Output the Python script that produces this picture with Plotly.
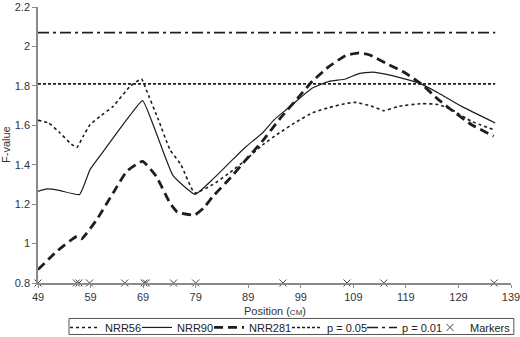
import plotly.graph_objects as go

# ---- data ----
nrr56_x = [49, 51, 53.2, 55.1, 56.4, 57.6, 58.9, 60.8, 63.3, 66.5, 68.7, 69.6, 71.9, 74.1, 76.2,
           78.8, 82.3, 85.5, 88.6, 91.7, 94.9, 98, 101.2, 104.4, 107.5, 109.4, 112.6, 114.8,
           117.6, 122.1, 125.2, 127.7, 131.5, 136]
nrr56_y = [1.625, 1.612, 1.561, 1.51, 1.488, 1.544, 1.603, 1.645, 1.696, 1.797, 1.835, 1.78, 1.629,
           1.477, 1.40, 1.257, 1.30, 1.36, 1.426, 1.50, 1.561, 1.615, 1.663, 1.69, 1.71, 1.716,
           1.696, 1.674, 1.696, 1.71, 1.705, 1.679, 1.62, 1.575]

nrr90_x = [49, 50.7, 53, 56.9, 58.9, 61.5, 64, 66.5, 68.9, 71.5, 74.7, 78.9, 82, 85.4, 88.5,
           91.7, 94, 96.2, 98.7, 101.2, 104.4, 107.5, 110.1, 112.6, 116.4, 121.4, 125.2,
           129.6, 136]
nrr90_y = [1.265, 1.277, 1.27, 1.249, 1.375, 1.47, 1.561, 1.65, 1.725, 1.561, 1.345, 1.25, 1.32,
           1.409, 1.49, 1.561, 1.63, 1.679, 1.735, 1.789, 1.823, 1.835, 1.862, 1.870, 1.852,
           1.815, 1.764, 1.696, 1.612]

nrr281_x = [49, 52.6, 56.4, 57.3, 60.2, 63.3, 65.9, 68.9, 71.5, 74.1, 75.5, 78.8, 80.5, 82.3,
            85.5, 88.6, 91.7, 94.9, 98.7, 101.2, 104.4, 107.5, 110.1, 112, 115.8, 118.9,
            122.1, 125.2, 128.4, 131.5, 135.7]
nrr281_y = [0.868, 0.961, 1.037, 1.024, 1.122, 1.257, 1.367, 1.417, 1.341, 1.206, 1.16, 1.145,
            1.18, 1.24, 1.33, 1.426, 1.52, 1.629, 1.747, 1.823, 1.899, 1.953, 1.967, 1.958,
            1.907, 1.865, 1.806, 1.73, 1.663, 1.603, 1.545]

thresh_x = [49, 136]
p05 = 1.81
p01 = 2.07

marker_pos = [49, 56.3, 56.8, 58.8, 65.5, 69.2, 69.6, 74.8, 79, 95.6, 107.8, 114.8, 135.8]
marker_level = 0.8

x_ticks = [49, 59, 69, 79, 89, 99, 109, 119, 129, 139]

ink = "#1e1e1e"

fig = go.Figure()
fig.add_trace(go.Scatter(x=nrr56_x, y=nrr56_y, mode="lines", name="NRR56", legendwidth=27,
                         line=dict(color=ink, width=1.6, dash="3px,3px", shape="spline", smoothing=0.4)))
fig.add_trace(go.Scatter(x=nrr90_x, y=nrr90_y, mode="lines", name="NRR90", legendwidth=27,
                         line=dict(color=ink, width=1.2, shape="spline", smoothing=0.4)))
fig.add_trace(go.Scatter(x=nrr281_x, y=nrr281_y, mode="lines", name="NRR281", legendwidth=33,
                         line=dict(color=ink, width=2.8, dash="9px,5px", shape="spline", smoothing=0.4)))
fig.add_trace(go.Scatter(x=thresh_x, y=[p05, p05], mode="lines", name="p = 0.05", legendwidth=30,
                         line=dict(color=ink, width=1.6, dash="3px,2px")))
fig.add_trace(go.Scatter(x=thresh_x, y=[p01, p01], mode="lines", name="p = 0.01", legendwidth=23,
                         line=dict(color=ink, width=1.6, dash="11px,4px,3px,4px")))
fig.add_trace(go.Scatter(x=marker_pos, y=[marker_level] * len(marker_pos), mode="markers",
                         name="Markers", cliponaxis=False, legendwidth=40,
                         marker=dict(symbol="x-thin-open", size=7, color="#444",
                                     line=dict(color="#444", width=1))))

fig.update_layout(
    width=520, height=337,
    margin=dict(l=38, r=9, t=7, b=54, autoexpand=False),
    paper_bgcolor="white", plot_bgcolor="white",
    font=dict(family="Liberation Sans, Arial, sans-serif", size=11, color="#333"),
    showlegend=True,
    legend=dict(orientation="h", x=0.0571, y=-0.161, xanchor="left", yanchor="middle",
                borderwidth=0, bgcolor="rgba(0,0,0,0)",
                font=dict(size=11, color="#222"), itemwidth=30, tracegroupgap=0),
    xaxis=dict(range=[49, 139], tickvals=x_ticks, showgrid=False, zeroline=False,
               showline=True, linecolor="#8a8a8a", linewidth=1.5, ticklabeloverflow="allow",
               ticks="outside", ticklen=3, tickcolor="#8a8a8a"),
    yaxis=dict(range=[0.8, 2.2], dtick=0.2, tick0=0.8, showgrid=False, zeroline=False,
               showline=True, linecolor="#8a8a8a", linewidth=1.5,
               ticks="outside", ticklen=4, tickcolor="#8a8a8a"),
    shapes=[dict(type="rect", xref="paper", yref="paper", x0=0.0655, x1=1.006,
                 y0=-0.1865, y1=-0.1285, line=dict(color="#555", width=1),
                 fillcolor="rgba(0,0,0,0)", layer="below")],
    annotations=[
        dict(text="F-value", xref="paper", yref="paper", x=0, y=0.5, xshift=-32,
             textangle=-90, showarrow=False, xanchor="center", yanchor="middle",
             font=dict(size=11, color="#333")),
        dict(text="Position (<span style='font-size:8px'>CM</span>)", xref="paper", yref="paper",
             x=0.5, y=0, yshift=-28, showarrow=False, xanchor="center", yanchor="middle",
             font=dict(size=11, color="#333")),
    ],
)

fig.write_html("out.html")
